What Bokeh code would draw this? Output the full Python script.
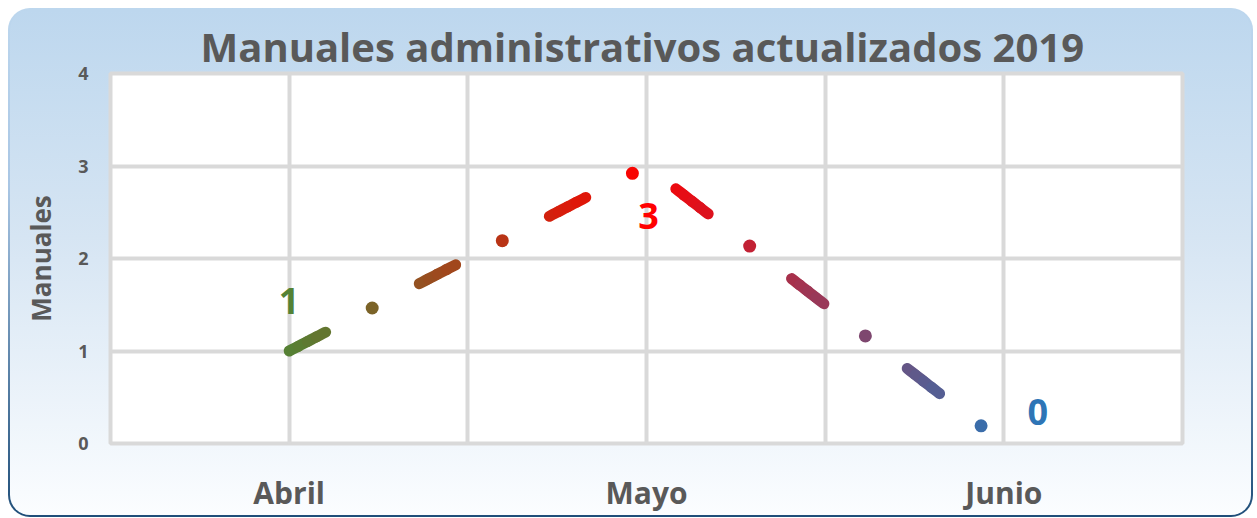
import numpy as np
from bokeh.plotting import figure
from bokeh.models import ColumnDataSource, FixedTicker, Range1d
from bokeh.embed import file_html
from bokeh.resources import INLINE
from bokeh.core.properties import value

# ---------------- data ----------------
months = ["Abril", "Mayo", "Junio"]
manuales = [1, 3, 0]
y_ticks = [0, 1, 2, 3, 4]
title_text = "Manuales administrativos actualizados 2019"
y_label = "Manuales"

# ---------------- layout / style ----------------
x_pos = [1, 3, 5]            # category centres on a 0..6 axis (two grid slots per category)
X0, X1 = 0, 6
Y0, Y1 = 0, 4
FW, FH = 1072, 370           # frame size in px
label_dx = [0, 2, 34]
label_dy = [-50, 50, -32]
label_colors = ["#548235", "#ff0000", "#2e75b6"]
stop_x = [1, 3, 5]
stop_rgb = np.array([[84, 130, 53], [255, 0, 0], [46, 117, 182]], dtype=float)
GRID = "#d9d9d9"
TXT = "#595959"
FONT = "Open Sans"

p = figure(frame_width=FW, frame_height=FH,
           x_range=Range1d(X0, X1), y_range=Range1d(Y0, Y1),
           output_backend="svg", toolbar_location=None,
           min_border_left=100, min_border_right=69,
           min_border_top=63, min_border_bottom=70)

p.styles = {
    "margin": "8px 0 0 8px",
    "border-radius": "22px",
    "border": "2px solid transparent",
    "background": "linear-gradient(to bottom, #bdd7ee 0%, #d6e5f3 45%, #fbfdff 100%) padding-box, "
                  "linear-gradient(to bottom, #bdd7ee 0%, #a9c6e4 35%, #1f4e79 100%) border-box",
}
p.border_fill_alpha = 0
p.background_fill_color = "white"
p.outline_line_color = GRID
p.outline_line_width = 4

p.title.text = title_text
p.title.align = "left"
p.title.offset = 90
p.title.text_font = FONT
p.title.text_font_size = "40px"
p.title.text_font_style = "bold"
p.title.text_color = TXT
p.title.standoff = 0

# axes
p.xaxis.ticker = FixedTicker(ticks=x_pos)
p.xaxis.major_label_overrides = {x: m for x, m in zip(x_pos, months)}
p.yaxis.ticker = FixedTicker(ticks=y_ticks)
for ax in (p.xaxis, p.yaxis):
    ax.axis_line_color = None
    ax.major_tick_line_color = None
    ax.minor_tick_line_color = None
    ax.major_label_text_font = FONT
    ax.major_label_text_font_style = "bold"
    ax.major_label_text_color = TXT
p.xaxis.major_label_text_font_size = "30px"
p.xaxis.major_label_standoff = 22
p.yaxis.major_label_text_font_size = "18px"
p.yaxis.major_label_standoff = 16
p.yaxis.axis_label = y_label
p.yaxis.axis_label_text_font = FONT
p.yaxis.axis_label_text_font_size = "26px"
p.yaxis.axis_label_text_font_style = "bold"
p.yaxis.axis_label_text_color = TXT
p.yaxis.axis_label_standoff = 16

p.xgrid.ticker = FixedTicker(ticks=list(range(X0, X1 + 1)))
p.ygrid.ticker = FixedTicker(ticks=y_ticks)
for g in (p.xgrid, p.ygrid):
    g.grid_line_color = GRID
    g.grid_line_width = 4

# ---------------- long-dash-dot gradient line ----------------
kx = FW / (X1 - X0)
ky = FH / (Y1 - Y0)
px = np.array(x_pos, float) * kx
py = np.array(manuales, float) * ky
cum = np.concatenate([[0.0], np.cumsum(np.hypot(np.diff(px), np.diff(py)))])
total = cum[-1]


def at(s):
    return np.interp(s, cum, x_pos), np.interp(s, cum, manuales)


def col(x):
    r = np.interp(x, stop_x, stop_rgb[:, 0])
    g = np.interp(x, stop_x, stop_rgb[:, 1])
    b = np.interp(x, stop_x, stop_rgb[:, 2])
    return "#%02x%02x%02x" % (int(r), int(g), int(b))


DASH, DOT_AT, PERIOD = 41.0, 93.5, 146.5
xs, ys, cs = [], [], []
dx_, dy_, dc = [], [], []
k = 0
while k * PERIOD < total:
    s0 = k * PERIOD
    s1 = min(s0 + DASH, total)
    edges = np.linspace(s0, s1, 5)
    for a, b in zip(edges[:-1], edges[1:]):
        ss = np.linspace(a, b, 4)
        xx, yy = at(ss)
        xs.append(list(xx)); ys.append(list(yy))
        cs.append(col(at((a + b) / 2)[0]))
    sd = s0 + DOT_AT
    if sd < total:
        xd, yd = at(sd)
        dx_.append(float(xd)); dy_.append(float(yd)); dc.append(col(xd))
    k += 1

p.multi_line(xs=xs, ys=ys, line_color=cs, line_width=11, line_cap="round")
p.scatter(x=dx_, y=dy_, size=13, fill_color=dc, line_color=None, marker="circle")

# data labels
src = ColumnDataSource(dict(x=x_pos, y=manuales, t=[str(v) for v in manuales],
                            c=label_colors, xo=label_dx, yo=label_dy))
p.text(x="x", y="y", text="t", source=src, text_color="c", x_offset="xo", y_offset="yo",
       text_font=value(FONT), text_font_style="bold", text_font_size="36px",
       text_align="center", text_baseline="middle")

open("out.html", "w").write(file_html(p, INLINE))
